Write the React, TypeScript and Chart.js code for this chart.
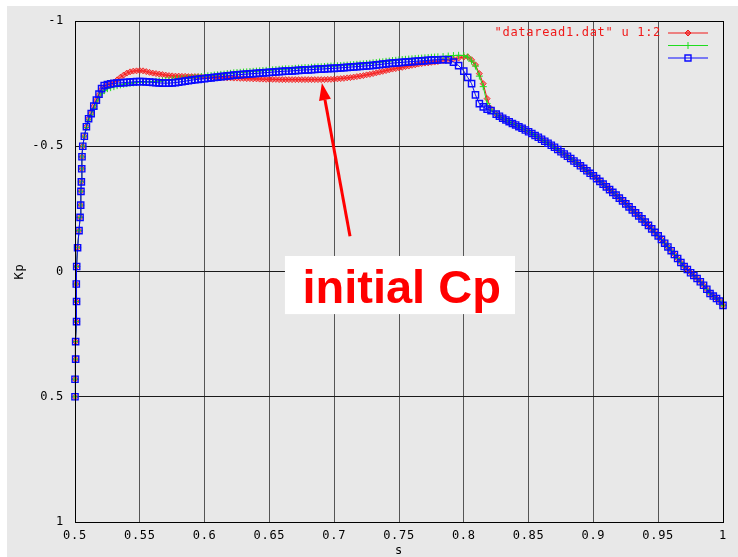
import React, { useEffect, useRef } from 'react';
import { Chart, registerables } from 'chart.js';

Chart.register(...registerables);

// ---------- data: s positions, split by region ----------
const S_RISE = [
  0.5, 0.5, 0.5005, 0.5005, 0.5012, 0.5012, 0.501, 0.5013, 0.502, 0.5031,
  0.5039, 0.5044, 0.5046, 0.5049, 0.5052, 0.5054, 0.506, 0.5072, 0.5088, 0.5105,
  0.5125, 0.5145, 0.5165, 0.5185, 0.5205, 0.5225,
];
const S_PLATEAU = [
  0.525, 0.5275, 0.53, 0.5325, 0.535, 0.5375, 0.54, 0.5425, 0.545, 0.5475,
  0.55, 0.5525, 0.555, 0.5575, 0.56, 0.5625, 0.565, 0.5675, 0.57, 0.5725,
  0.575, 0.5775, 0.58, 0.5825, 0.585, 0.5875, 0.59, 0.5925, 0.595, 0.5975,
  0.6, 0.6025, 0.605, 0.6075, 0.61, 0.6125, 0.615, 0.6175, 0.62, 0.6225,
  0.625, 0.6275, 0.63, 0.6325, 0.635, 0.6375, 0.64, 0.6425, 0.645, 0.6475,
  0.65, 0.6525, 0.655, 0.6575, 0.66, 0.6625, 0.665, 0.6675, 0.67, 0.6725,
  0.675, 0.6775, 0.68, 0.6825, 0.685, 0.6875, 0.69, 0.6925, 0.695, 0.6975,
  0.7, 0.7025, 0.705, 0.7075, 0.71, 0.7125, 0.715, 0.7175, 0.72, 0.7225,
  0.725, 0.7275, 0.73, 0.7325, 0.735, 0.7375, 0.74, 0.7425, 0.745, 0.7475,
  0.75, 0.7525, 0.755, 0.7575, 0.76, 0.7625, 0.765, 0.7675, 0.77, 0.7725,
  0.775, 0.7775, 0.78,
];
const S_DROP = [0.784, 0.788, 0.792, 0.796, 0.8, 0.803, 0.806, 0.809, 0.812, 0.815, 0.818, 0.821];
const S_TAIL = [
  0.825, 0.8275, 0.83, 0.8325, 0.835, 0.8375, 0.84, 0.8425, 0.845, 0.8475,
  0.85, 0.8525, 0.855, 0.8575, 0.86, 0.8625, 0.865, 0.8675, 0.87, 0.8725,
  0.875, 0.8775, 0.88, 0.8825, 0.885, 0.8875, 0.89, 0.8925, 0.895, 0.8975,
  0.9, 0.9025, 0.905, 0.9075, 0.91, 0.9125, 0.915, 0.9175, 0.92, 0.9225,
  0.925, 0.9275, 0.93, 0.9325, 0.935, 0.9375, 0.94, 0.9425, 0.945, 0.9475,
  0.95, 0.9525, 0.955, 0.9575, 0.96, 0.9625, 0.965, 0.9675, 0.97, 0.9725,
  0.975, 0.9775, 0.98, 0.9825, 0.985, 0.9875, 0.99, 0.9925, 0.995, 0.9975,
  1.0,
];

// ---------- Kp values ----------
const KP_RED_RISE = [
  0.5, 0.43, 0.35, 0.28, 0.2, 0.12, 0.05, -0.02, -0.095, -0.163,
  -0.216, -0.265, -0.32, -0.358, -0.41, -0.458, -0.5, -0.54, -0.578, -0.61,
  -0.632, -0.66, -0.684, -0.706, -0.728, -0.738,
];
const KP_RED_PLATEAU = [
  -0.745, -0.749, -0.755, -0.765, -0.775, -0.784, -0.792, -0.797, -0.8, -0.801,
  -0.802, -0.801, -0.798, -0.795, -0.792, -0.79, -0.788, -0.786, -0.784, -0.782,
  -0.781, -0.78, -0.78, -0.779, -0.779, -0.778, -0.778, -0.778, -0.778, -0.777,
  -0.777, -0.776, -0.776, -0.775, -0.775, -0.774, -0.774, -0.773, -0.773, -0.772,
  -0.772, -0.771, -0.771, -0.77, -0.77, -0.769, -0.769, -0.768, -0.768, -0.767,
  -0.767, -0.767, -0.767, -0.766, -0.766, -0.766, -0.766, -0.766, -0.766, -0.766,
  -0.766, -0.766, -0.766, -0.766, -0.766, -0.766, -0.766, -0.766, -0.767, -0.767,
  -0.768, -0.769, -0.77, -0.771, -0.773, -0.774, -0.776, -0.778, -0.78, -0.782,
  -0.785, -0.787, -0.79, -0.793, -0.796, -0.799, -0.802, -0.805, -0.808, -0.81,
  -0.813, -0.815, -0.818, -0.82, -0.823, -0.825, -0.828, -0.83, -0.832, -0.833,
  -0.835, -0.836, -0.838,
];
const KP_RED_DROP = [-0.841, -0.844, -0.848, -0.852, -0.856, -0.857, -0.845, -0.825, -0.79, -0.75, -0.69, -0.65];

const KP_GREEN_RISE = [
  0.5, 0.43, 0.35, 0.28, 0.2, 0.12, 0.05, -0.02, -0.095, -0.163,
  -0.216, -0.265, -0.32, -0.358, -0.41, -0.458, -0.5, -0.54, -0.575, -0.605,
  -0.625, -0.65, -0.672, -0.695, -0.712, -0.722,
];
const KP_GREEN_PLATEAU = [
  -0.73, -0.734, -0.738, -0.742, -0.745, -0.748, -0.75, -0.752, -0.753, -0.755,
  -0.756, -0.757, -0.757, -0.758, -0.758, -0.759, -0.76, -0.761, -0.763, -0.764,
  -0.766, -0.768, -0.769, -0.77, -0.771, -0.772, -0.773, -0.775, -0.776, -0.778,
  -0.779, -0.781, -0.782, -0.784, -0.785, -0.787, -0.788, -0.79, -0.791, -0.793,
  -0.794, -0.795, -0.796, -0.797, -0.798, -0.799, -0.8, -0.801, -0.802, -0.803,
  -0.804, -0.805, -0.806, -0.807, -0.808, -0.809, -0.809, -0.81, -0.811, -0.812,
  -0.813, -0.814, -0.814, -0.815, -0.816, -0.817, -0.817, -0.818, -0.819, -0.82,
  -0.82, -0.821, -0.822, -0.823, -0.824, -0.825, -0.826, -0.827, -0.828, -0.829,
  -0.83, -0.831, -0.833, -0.834, -0.836, -0.837, -0.839, -0.84, -0.842, -0.843,
  -0.845, -0.846, -0.847, -0.848, -0.849, -0.85, -0.851, -0.852, -0.853, -0.854,
  -0.855, -0.856, -0.857,
];
const KP_GREEN_DROP = [-0.858, -0.86, -0.862, -0.863, -0.862, -0.856, -0.84, -0.82, -0.78, -0.738, -0.67, -0.645];

const KP_BLUE_RISE = [
  0.5, 0.43, 0.35, 0.28, 0.2, 0.12, 0.05, -0.02, -0.095, -0.163,
  -0.216, -0.265, -0.32, -0.358, -0.41, -0.458, -0.5, -0.54, -0.578, -0.61,
  -0.63, -0.66, -0.684, -0.708, -0.73, -0.742,
];
const KP_BLUE_PLATEAU = [
  -0.746, -0.749, -0.751, -0.752, -0.753, -0.754, -0.755, -0.756, -0.757, -0.758,
  -0.758, -0.758, -0.757, -0.756, -0.755, -0.754, -0.753, -0.752, -0.752, -0.752,
  -0.753, -0.754, -0.756, -0.758, -0.76, -0.762, -0.764, -0.766, -0.767, -0.769,
  -0.77, -0.772, -0.773, -0.775, -0.776, -0.778, -0.779, -0.781, -0.782, -0.784,
  -0.785, -0.786, -0.787, -0.788, -0.789, -0.79, -0.791, -0.792, -0.793, -0.794,
  -0.795, -0.796, -0.797, -0.798, -0.799, -0.8, -0.8, -0.801, -0.802, -0.803,
  -0.804, -0.805, -0.805, -0.806, -0.807, -0.808, -0.808, -0.809, -0.81, -0.811,
  -0.811, -0.812, -0.813, -0.814, -0.815, -0.816, -0.817, -0.818, -0.819, -0.82,
  -0.821, -0.822, -0.823, -0.825, -0.826, -0.828, -0.829, -0.831, -0.832, -0.833,
  -0.834, -0.835, -0.836, -0.837, -0.838, -0.839, -0.84, -0.841, -0.842, -0.843,
  -0.844, -0.845, -0.845,
];
const KP_BLUE_DROP = [-0.846, -0.845, -0.836, -0.822, -0.8, -0.775, -0.75, -0.705, -0.67, -0.657, -0.648, -0.642];

// trailing part, where the three curves coincide
const KP_TAIL = [
  -0.628, -0.62, -0.612, -0.605, -0.598, -0.591, -0.585, -0.578, -0.572, -0.565,
  -0.558, -0.551, -0.543, -0.536, -0.528, -0.52, -0.512, -0.504, -0.496, -0.487,
  -0.478, -0.469, -0.46, -0.451, -0.441, -0.432, -0.422, -0.412, -0.402, -0.392,
  -0.382, -0.371, -0.36, -0.349, -0.338, -0.327, -0.316, -0.305, -0.293, -0.282,
  -0.27, -0.258, -0.246, -0.234, -0.222, -0.21, -0.197, -0.184, -0.17, -0.156,
  -0.142, -0.128, -0.113, -0.098, -0.083, -0.068, -0.052, -0.036, -0.02, -0.008,
  0.005, 0.016, 0.028, 0.041, 0.055, 0.071, 0.088, 0.098, 0.108, 0.118,
  0.135,
];

const S_VALUES = [...S_RISE, ...S_PLATEAU, ...S_DROP, ...S_TAIL];
const KP_RED = [...KP_RED_RISE, ...KP_RED_PLATEAU, ...KP_RED_DROP, ...KP_TAIL];
const KP_GREEN = [...KP_GREEN_RISE, ...KP_GREEN_PLATEAU, ...KP_GREEN_DROP, ...KP_TAIL];
const KP_BLUE = [...KP_BLUE_RISE, ...KP_BLUE_PLATEAU, ...KP_BLUE_DROP, ...KP_TAIL];

const X_TICKS = [0.5, 0.55, 0.6, 0.65, 0.7, 0.75, 0.8, 0.85, 0.9, 0.95, 1];
const Y_TICKS = [-1, -0.5, 0, 0.5, 1];
const LEGEND_LABELS = ['"dataread1.dat" u 1:2', '', ''];
const X_TITLE = 's';
const Y_TITLE = 'Kp';
const NOTE_TEXT = 'initial Cp';
// annotation anchors in data units (s, Kp)
const NOTE_BOX = { s0: 0.662, s1: 0.8395, k0: -0.062, k1: 0.17 };
const NOTE_TEXT_POS = { s: 0.6755, k: 0.126 };
const ARROW_FROM = { s: 0.7122, k: -0.141 };
const ARROW_TO = { s: 0.6905, k: -0.752 };

// ---------- styles ----------
const MONO = '"DejaVu Sans Mono", "Liberation Mono", monospace';
const SPACING = '0.7px';
const BG = '#e8e8e8';
const RED = '#f01818';
const GREEN = '#1edc1e';
const BLUE = '#0a0aff';

function drawMarker(ctx: CanvasRenderingContext2D, kind: string, x: number, y: number, color: string) {
  ctx.save();
  ctx.strokeStyle = color;
  ctx.fillStyle = color;
  ctx.lineWidth = 1;
  ctx.beginPath();
  if (kind === 'diamond') {
    ctx.moveTo(x, y - 3); ctx.lineTo(x + 3, y); ctx.lineTo(x, y + 3); ctx.lineTo(x - 3, y); ctx.closePath();
    ctx.globalAlpha = 0.6; ctx.fill(); ctx.globalAlpha = 1; ctx.stroke();
  } else if (kind === 'plus') {
    ctx.moveTo(x - 3.5, y); ctx.lineTo(x + 3.5, y); ctx.moveTo(x, y - 3.5); ctx.lineTo(x, y + 3.5); ctx.stroke();
  } else {
    ctx.lineWidth = 1.4;
    ctx.rect(x - 3, y - 3, 6, 6); ctx.stroke();
  }
  ctx.restore();
}

const bgPlugin = {
  id: 'gnuBg',
  beforeDraw(chart: any) {
    const ctx = chart.ctx as CanvasRenderingContext2D;
    ctx.save();
    ctx.fillStyle = '#ffffff';
    ctx.fillRect(0, 0, chart.width, chart.height);
    ctx.fillStyle = BG;
    ctx.fillRect(7, 6, chart.width - 7, chart.height - 6);
    ctx.restore();
    (ctx as any).letterSpacing = SPACING;
  },
};

const overlayPlugin = {
  id: 'gnuOverlay',
  afterDraw(chart: any) {
    const ctx = chart.ctx as CanvasRenderingContext2D;
    const { left, top, right, bottom } = chart.chartArea;
    const xs = chart.scales.x;
    const ys = chart.scales.y;
    ctx.save();
    // full border
    ctx.strokeStyle = '#000';
    ctx.lineWidth = 1;
    ctx.strokeRect(Math.round(left) + 0.5, Math.round(top) + 0.5, Math.round(right - left), Math.round(bottom - top));

    // legend key
    const colors = [RED, GREEN, BLUE];
    const kinds = ['diamond', 'plus', 'square'];
    const keyY = [33, 45.5, 58];
    (ctx as any).letterSpacing = SPACING;
    ctx.font = `12px ${MONO}`;
    ctx.textAlign = 'right';
    ctx.textBaseline = 'middle';
    for (let i = 0; i < 3; i++) {
      if (LEGEND_LABELS[i]) {
        ctx.fillStyle = RED;
        ctx.fillText(LEGEND_LABELS[i], 661, keyY[i]);
      }
      ctx.strokeStyle = colors[i];
      ctx.lineWidth = 1.2;
      ctx.beginPath();
      ctx.moveTo(668, keyY[i]);
      ctx.lineTo(708, keyY[i]);
      ctx.stroke();
      drawMarker(ctx, kinds[i], 688, keyY[i], colors[i]);
    }

    // arrow
    const ax0 = xs.getPixelForValue(ARROW_FROM.s);
    const ay0 = ys.getPixelForValue(ARROW_FROM.k);
    const ax1 = xs.getPixelForValue(ARROW_TO.s);
    const ay1 = ys.getPixelForValue(ARROW_TO.k);
    const ang = Math.atan2(ay1 - ay0, ax1 - ax0);
    const headLen = 17;
    const headHalf = 6;
    const bx = ax1 - headLen * Math.cos(ang);
    const by = ay1 - headLen * Math.sin(ang);
    ctx.strokeStyle = '#ff0000';
    ctx.fillStyle = '#ff0000';
    ctx.lineWidth = 3;
    ctx.beginPath();
    ctx.moveTo(ax0, ay0);
    ctx.lineTo(bx, by);
    ctx.stroke();
    ctx.beginPath();
    ctx.moveTo(ax1, ay1);
    ctx.lineTo(bx + headHalf * Math.sin(ang), by - headHalf * Math.cos(ang));
    ctx.lineTo(bx - headHalf * Math.sin(ang), by + headHalf * Math.cos(ang));
    ctx.closePath();
    ctx.fill();

    // annotation box
    const bx0 = xs.getPixelForValue(NOTE_BOX.s0);
    const bx1 = xs.getPixelForValue(NOTE_BOX.s1);
    const by0 = ys.getPixelForValue(NOTE_BOX.k0);
    const by1 = ys.getPixelForValue(NOTE_BOX.k1);
    ctx.fillStyle = '#ffffff';
    ctx.fillRect(bx0, by0, bx1 - bx0, by1 - by0);
    (ctx as any).letterSpacing = '0px';
    ctx.fillStyle = '#ff0000';
    ctx.font = 'bold 47px "Liberation Sans", Arial, sans-serif';
    ctx.textAlign = 'left';
    ctx.textBaseline = 'alphabetic';
    ctx.fillText(NOTE_TEXT, xs.getPixelForValue(NOTE_TEXT_POS.s), ys.getPixelForValue(NOTE_TEXT_POS.k));
    ctx.restore();
    (ctx as any).letterSpacing = SPACING;
  },
};

const fmt = (v: any) => String(+Number(v).toFixed(3));

export default function App() {
  const ref = useRef<HTMLCanvasElement>(null);
  useEffect(() => {
    const canvas = ref.current;
    if (!canvas) return;
    const toPts = (ys: number[]) => S_VALUES.map((s, i) => ({ x: s, y: ys[i] }));
    const chart = new Chart(canvas, {
      type: 'scatter',
      data: {
        datasets: [
          {
            label: LEGEND_LABELS[0],
            data: toPts(KP_RED),
            showLine: true,
            borderColor: RED,
            borderWidth: 1,
            backgroundColor: 'rgba(255,40,40,0.55)',
            pointStyle: 'rectRot',
            pointRadius: 3,
            pointBorderWidth: 1,
            pointBorderColor: 'rgba(240,24,24,0.8)',
            order: 3,
            clip: false,
          },
          {
            label: LEGEND_LABELS[1],
            data: toPts(KP_GREEN),
            showLine: true,
            borderColor: GREEN,
            borderWidth: 1,
            backgroundColor: GREEN,
            pointStyle: 'cross',
            pointRadius: 3.5,
            pointBorderWidth: 1,
            order: 2,
            clip: false,
          },
          {
            label: LEGEND_LABELS[2],
            data: toPts(KP_BLUE),
            showLine: true,
            borderColor: BLUE,
            borderWidth: 1,
            backgroundColor: 'rgba(0,0,0,0)',
            pointStyle: 'rect',
            pointRadius: 4.4,
            pointBorderWidth: 1.4,
            pointBorderColor: BLUE,
            order: 1,
            clip: false,
          },
        ],
      },
      options: {
        responsive: false,
        animation: false,
        devicePixelRatio: 1,
        events: [],
        layout: { padding: { top: 21, right: 15, left: 0, bottom: 0 } },
        plugins: { legend: { display: false }, tooltip: { enabled: false } },
        scales: {
          x: {
            type: 'linear',
            position: 'bottom',
            min: 0.5,
            max: 1,
            afterBuildTicks: (s: any) => { s.ticks = X_TICKS.map((v) => ({ value: v })); },
            afterFit: (s: any) => { s.height = 35; },
            grid: { color: '#555555', lineWidth: 1, drawTicks: false },
            border: { color: '#000000', width: 1 },
            ticks: {
              autoSkip: false, maxRotation: 0, minRotation: 0, padding: 7,
              color: '#000000', font: { family: MONO, size: 12 }, callback: fmt,
            },
            title: {
              display: true, text: X_TITLE, color: '#000000',
              font: { family: MONO, size: 12 }, padding: { top: 0, bottom: -1 },
            },
          },
          y: {
            type: 'linear',
            position: 'left',
            reverse: true,
            min: -1,
            max: 1,
            afterBuildTicks: (s: any) => { s.ticks = Y_TICKS.map((v) => ({ value: v })); },
            afterFit: (s: any) => { s.width = 75; },
            grid: { color: '#1a1a1a', lineWidth: 1, drawTicks: false },
            border: { color: '#000000', width: 1 },
            ticks: {
              autoSkip: false, padding: 11,
              color: '#000000', font: { family: MONO, size: 12 }, callback: fmt,
            },
            title: {
              display: true, text: Y_TITLE, color: '#000000',
              font: { family: MONO, size: 12 }, padding: { top: 13, bottom: 0 },
            },
          },
        },
      } as any,
      plugins: [bgPlugin, overlayPlugin],
    });
    return () => chart.destroy();
  }, []);

  return (
    <div style={{ position: 'fixed', left: 0, top: 0, width: 738, height: 557 }}>
      <canvas ref={ref} width={738} height={557} style={{ display: 'block', width: 738, height: 557 }} />
    </div>
  );
}
